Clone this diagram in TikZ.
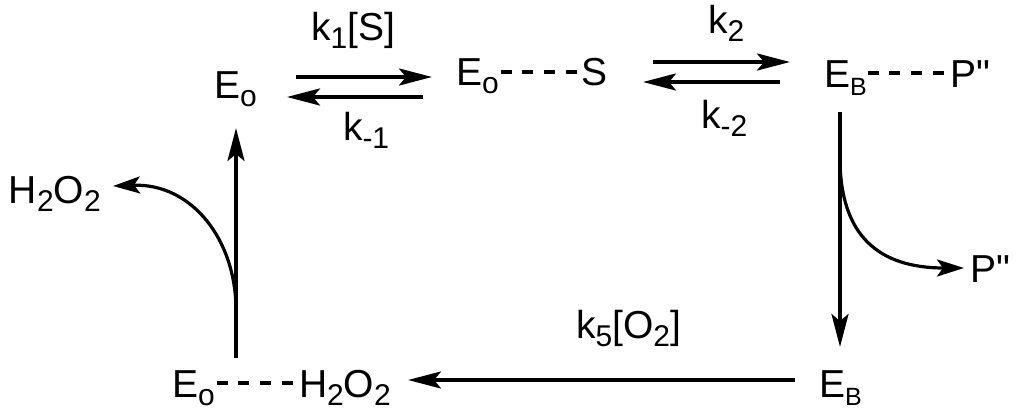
\documentclass[tikz,border=0pt]{standalone}
\usepackage{fontspec}
\setmainfont{Liberation Sans}
\newfontfamily\lsans{Liberation Sans}
\usetikzlibrary{arrows.meta}
\newcommand\sbs[1]{\raisebox{-8.5pt}{\fontsize{30}{32}\selectfont #1}}
\newcommand\sbB[1]{\raisebox{-8pt}{\fontsize{25}{27}\selectfont #1}}
\tikzset{
  lbl/.style={inner sep=0pt, outer sep=0pt, anchor=base west, font=\lsans\fontsize{39}{45}\selectfont},
  arr/.style={line width=3.8pt, -{Stealth[length=33pt,width=17pt,inset=7pt]}},
  carr/.style={line width=3.2pt, -{Stealth[length=27pt,width=17pt,inset=6pt]}},
  dashline/.style={line width=3.8pt, dash pattern=on 11pt off 10.7pt}
}
\begin{document}
\begin{tikzpicture}[x=1pt,y=-1pt]
\useasboundingbox (0,0) rectangle (1019,415);
% species
\node[lbl] (Eo1) at (214,98) {E\sbs{o}};
\node[lbl] (Eo2) at (456,85) {E\sbs{o}};
\node[lbl] (S) at (581,85) {S};
\node[lbl] (EB1) at (824,87) {E\sbB{B}};
\node[lbl] (P1) at (950,87) {P"};
\node[lbl] (P2) at (970,282) {P"};
\node[lbl] (EB2) at (819,397) {E\sbB{B}};
\node[lbl] (Eo3) at (172,397) {E\sbs{o}};
\node[lbl] (HO1) at (299,397) {H\sbs{2}O\sbs{2}};
\node[lbl] (HO2) at (9,203) {H\sbs{2}O\sbs{2}};
% rate labels
\node[lbl] (k1) at (311,40) {k\sbs{1}[S]};
\node[lbl] (km1) at (343,140) {k\sbs{-1}};
\node[lbl] (k2) at (708,33) {k\sbs{2}};
\node[lbl] (km2) at (701,128) {k\sbs{-2}};
\node[lbl] (k5) at (576,338) {k\sbs{5}[O\sbs{2}]};
% dashed bonds
\draw[dashline] ([xshift=2pt,yshift=13pt]Eo2.base east) -- ([xshift=-3pt,yshift=13pt]S.base west);
\draw[dashline] ([xshift=1pt,yshift=14pt]EB1.base east) -- ([xshift=-3pt,yshift=14pt]P1.base west);
\draw[dashline] ([xshift=2pt,yshift=14pt]Eo3.base east) -- ([xshift=-4pt,yshift=14pt]HO1.base west);
% arrow end points
\coordinate (a1s) at (296,77);  \coordinate (a1e) at (432,77);
\coordinate (a2s) at (423,97);  \coordinate (a2e) at (287,97);
\coordinate (a3s) at (653,62);  \coordinate (a3e) at (790,62);
\coordinate (a4s) at (780,82);  \coordinate (a4e) at (643,82);
\coordinate (v1s) at (840,112); \coordinate (v1e) at (840,347);
\coordinate (c1s) at (840,158); \coordinate (c1e) at (964,268);
\coordinate (a5s) at (795,380); \coordinate (a5e) at (408,380);
\coordinate (v2s) at (236,358); \coordinate (v2e) at (236,128);
\coordinate (c2s) at (236,310); \coordinate (c2e) at (113,186);
% arrows
\draw[arr] (a1s) -- (a1e);
\draw[arr] (a2s) -- (a2e);
\draw[arr] (a3s) -- (a3e);
\draw[arr] (a4s) -- (a4e);
\draw[arr] (v1s) -- (v1e);
\draw[arr] (a5s) -- (a5e);
\draw[arr] (v2s) -- (v2e);
\draw[carr] (c1s) .. controls (840,235) and (878,268) .. (c1e);
\draw[carr] (c2s) .. controls (236,240) and (192,183) .. (c2e);
\end{tikzpicture}
\end{document}
